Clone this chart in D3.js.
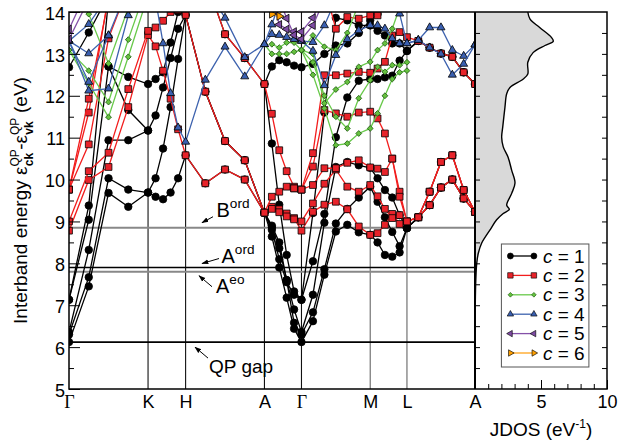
<!DOCTYPE html>
<html>
<head>
<meta charset="utf-8">
<script src="https://cdn.jsdelivr.net/npm/d3@7"></script>
<style>
  body { margin: 0; background: #fff; }
  text { font-family: "Liberation Sans", Arial, Helvetica, sans-serif; }
</style>
</head>
<body>
<div id="chart"></div>
<script>
// k-path: high-symmetry points (fractional path length) and samples per segment
var kLabels = ["Γ", "K", "H", "A", "Γ", "M", "L", "A"];
var kSym = [0, 0.1947, 0.2872, 0.4814, 0.5726, 0.7419, 0.8324, 1.0];
var kSteps = [4, 5, 4, 5, 6, 5, 6];

// reference energies (eV)
var qpGap = 6.12, aEo = 7.80, aOrd = 7.90, bOrd = 8.85;

// interband energies (eV), 36 k-points each, null = outside window
var c1 = [
  [6.12, 7.45, 9.68, 9.35, 9.69, 9.59, 9.53, 9.69, 10.03, 10.58, 9.91, 10.24, 10.00, 9.21, 8.64, 7.90, 7.18, 6.44, 6.12, 6.62, 7.73, 8.76, 8.92, 8.74, 8.68, 8.50, 8.20, 8.16, 8.26, 8.84, 9.10, 9.39, 9.81, 10.00, 9.55, 9.23],
  [6.30, 7.67, 10.03, 9.76, 9.69, 10.03, 10.74, 11.73, 12.88, 13.93, 12.10, 10.92, 10.46, 9.21, 8.86, 8.36, 7.60, 6.58, 6.30, 6.83, 7.86, 8.95, 9.30, 9.57, 9.83, 9.47, 9.10, 8.75, 8.41, 8.84, 9.10, 9.71, 10.42, 10.58, 9.75, 9.23],
  [6.36, 8.32, 10.94, 10.94, 11.17, 11.53, 12.20, 12.90, 13.60, 13.93, 12.10, 10.92, 10.46, 9.21, 8.90, 8.50, 7.60, 6.90, 6.36, 7.25, 8.97, 10.30, 10.42, 10.34, 10.28, 10.03, 9.75, 9.57, 9.15, 8.84, 9.10, 9.39, 9.81, 10.00, 9.55, 9.23],
  [7.13, 9.04, 12.70, 12.45, 12.28, 12.40, 12.56, 13.27, 14.00, 14.60, 14.80, 13.47, 12.90, 12.28, 10.86, 9.40, 8.20, 7.33, 7.13, 8.05, 9.18, 11.01, 11.96, 12.36, 12.40, 12.40, 12.44, 12.48, 12.84, 13.07, 13.31, 13.15, 13.01, 12.93, 12.56, 12.28],
  [7.13, 9.38, 14.30, null, null, null, null, null, null, null, null, null, null, 9.21, 8.80, 8.10, 7.55, 7.25, 7.13, 9.20, 11.60, 13.86, 13.80, 13.68, 13.68, 13.55, 13.44, 13.25, 13.25, 13.07, 13.31, 13.15, 13.01, 12.93, 12.56, 12.28],
  [12.68, 13.51, 14.40, null, null, null, null, null, null, null, null, null, null, 12.28, 12.70, 12.85, 12.80, 12.72, 12.68, 12.76, 13.00, 13.20, 13.25, 13.50, 13.80, 13.95, 14.30, null, null, null, null, null, null, null, null, null],
  [null, null, 12.70, 11.66, 11.17, null, null, null, null, null, null, null, null, null, null, null, null, null, null, null, null, null, null, null, null, null, null, null, null, null, null, null, null, null, null, null]
];
var c2 = [
  [8.78, 9.99, 10.30, 11.73, 13.45, 13.18, 12.60, 11.93, 11.20, 10.58, 9.91, 10.24, 10.00, 9.21, 9.35, 9.29, 9.19, 9.08, 8.78, 9.23, 9.40, 9.47, 9.29, 8.88, 8.68, 8.72, 8.92, 9.18, 8.94, 9.00, 9.10, 9.39, 9.81, 10.00, 9.55, 9.23],
  [9.00, 10.20, 10.64, 12.16, 13.55, 13.63, 13.79, 14.00, 14.05, 13.93, 12.10, 10.92, 10.46, 9.21, 9.30, 9.22, 9.12, 9.05, 9.00, 9.43, 9.90, 10.24, 9.83, 9.71, 9.87, 9.60, 9.30, 9.08, 9.15, 9.00, 9.10, 9.71, 10.42, 10.58, 9.75, 9.23],
  [9.76, 10.84, 13.37, 14.60, null, null, null, null, null, null, 14.80, 13.47, 12.90, 12.28, 11.57, 10.70, 10.20, 9.83, 9.76, 9.87, 10.27, 10.27, 10.40, 10.46, 10.29, 10.26, 10.18, 10.50, 9.71, 9.00, 9.10, 9.39, 9.81, 10.00, 9.55, 9.23],
  [9.76, 11.60, 14.40, null, null, null, null, null, null, null, null, null, null, 9.21, 9.59, 9.71, 9.83, 9.79, 9.76, 10.31, 11.66, 11.58, 11.50, 11.60, 11.62, 11.46, 11.10, 10.50, 9.59, 9.00, 9.10, 9.71, 10.42, 10.58, 9.75, 9.23],
  [9.76, 11.93, 14.30, null, null, null, null, null, null, null, null, null, null, null, null, null, null, 9.79, 9.76, 10.63, 12.49, 12.49, 12.53, 12.57, 12.55, 12.65, 12.81, 13.44, 13.52, 13.40, 13.31, 13.15, 13.01, 12.93, 12.56, 12.28],
  [null, null, null, null, null, null, null, null, null, null, null, null, null, null, null, null, null, null, null, null, 14.60, 13.60, 13.88, 13.84, 13.92, 13.92, 14.10, null, null, null, null, null, null, null, null, null]
];
var c3 = [
  [13.09, 12.30, 11.49, 12.93, 14.40, null, null, null, null, null, null, null, null, 13.23, 13.00, 13.00, 13.00, 13.05, 13.09, 12.50, 11.70, 10.82, 10.86, 11.10, 11.22, 11.58, 12.00, 12.40, 12.56, 12.60, null, null, null, null, null, null],
  [13.09, 12.60, 11.85, 13.34, 14.70, null, null, null, null, null, null, null, null, null, 13.23, 13.15, 13.27, 13.27, 13.09, 13.00, 11.82, 12.15, 12.33, 12.69, 12.81, 13.09, 13.25, 13.60, 14.10, null, null, null, null, null, null, null],
  [14.60, 13.95, 12.77, 14.10, null, null, null, null, null, null, null, null, null, null, null, null, null, null, 13.09, 12.80, 12.00, 11.50, 11.22, 11.94, 12.37, 12.69, 12.57, 12.73, 12.73, 12.80, null, null, null, null, null, null],
  [null, null, null, null, null, null, null, null, null, null, null, null, null, null, null, null, null, null, 13.09, 13.44, 13.17, 13.09, 13.50, 14.20, null, null, null, null, null, null, null, null, null, null, null, null]
];
var c4 = [
  [13.31, 12.12, 12.17, 13.92, 14.80, 14.30, 13.25, 12.06, 11.24, 10.90, 12.38, 13.17, 12.46, 13.23, 13.47, 13.45, 13.40, 13.35, 13.31, 13.07, 12.25, 12.97, 13.35, 13.56, 13.68, 13.68, 13.60, 13.37, 13.25, 13.25, 13.33, 13.63, 13.63, 13.09, 12.95, 13.22],
  [13.31, 13.71, 14.40, null, null, null, null, null, null, null, 14.60, 13.86, 12.92, 13.23, 13.70, 14.20, null, null, 13.31, 13.28, 13.68, 14.30, null, null, null, null, null, 14.40, 13.96, 13.25, 13.33, 13.15, 13.00, 12.50, 12.76, 13.22],
  [13.31, 12.33, 13.44, 14.60, null, null, null, null, null, null, null, null, null, null, null, null, null, null, null, null, null, null, null, null, null, null, null, null, null, null, null, null, null, null, null, null],
  [13.31, 13.01, 13.44, null, null, null, null, null, null, null, null, null, null, null, null, null, null, null, null, null, null, null, null, null, null, null, null, null, null, null, null, null, null, null, null, null]
];
var c5 = [
  [13.59, 14.60, null, null, null, null, null, null, null, null, null, null, null, null, 14.40, 13.70, 13.59, 13.53, 13.53, 13.86, 14.50, null, null, null, null, null, null, null, null, null, null, null, null, null, null, null],
  [13.35, 14.30, null, null, null, null, null, null, null, null, null, null, null, null, null, 14.30, 13.85, 13.45, 13.35, 13.68, 14.30, null, null, null, null, null, null, null, null, null, null, null, null, null, null, null]
];
var c6 = [
  [null, null, null, null, null, null, null, null, null, null, null, null, null, 14.30, 13.95, 13.90, 14.30, null, null, null, null, null, null, null, null, null, null, null, null, null, null, null, null, null, null, null]
];

// joint density of states (eV^-1) against energy (eV)
var jdosE = [6.10, 7.00, 7.60, 8.00, 8.24, 8.48, 8.80, 9.04, 9.19, 9.29, 9.39, 9.67, 9.92, 10.22, 10.54, 10.78, 11.01, 11.25, 11.73, 12.05, 12.20, 12.40, 12.52, 12.80, 13.03, 13.20, 13.30, 13.39, 13.63, 13.83, 14.00];
var jdosV = [0.00, 0.02, 0.06, 0.13, 0.25, 0.50, 1.14, 1.64, 2.14, 2.60, 2.40, 2.78, 3.03, 2.78, 2.50, 2.14, 2.02, 2.10, 2.27, 2.40, 2.65, 3.66, 4.00, 4.00, 4.40, 5.30, 5.93, 5.80, 4.90, 4.17, 4.00];

var legendLabels = ["1", "2", "3", "4", "5", "6"];

// k-grid from the path
var kx = [];
kSteps.forEach(function(n, s) {
  for (var i = 0; i < n; i++) kx.push(kSym[s] + (kSym[s + 1] - kSym[s]) * i / n);
});
kx.push(kSym[kSym.length - 1]);

var margin = {top: 12, right: 12, bottom: 55, left: 69},
    width = 619 - margin.left - margin.right,
    height = 444 - margin.top - margin.bottom,
    bandW = 406;

var svg = d3.select("#chart").append("svg")
    .attr("width", 619).attr("height", 444)
  .append("g")
    .attr("transform", "translate(" + margin.left + "," + margin.top + ")");

var x = d3.scaleLinear().domain([0, 1]).range([0, bandW]);
var xj = d3.scaleLinear().domain([0, 10]).range([bandW, width]);
var y = d3.scaleLinear().domain([5, 14]).range([height, 0]);

svg.append("defs").append("clipPath").attr("id", "clipBand")
  .append("rect").attr("width", bandW).attr("height", height);
svg.select("defs").append("marker")
    .attr("id", "arr").attr("viewBox", "0 0 10 10").attr("refX", 9).attr("refY", 5)
    .attr("markerWidth", 7).attr("markerHeight", 7).attr("orient", "auto")
  .append("path").attr("d", "M0,1.5 L10,5 L0,8.5 z").attr("fill", "#000");

// high-symmetry verticals
kSym.slice(1, -1).forEach(function(k, i) {
  var lab = kLabels[i + 1];
  svg.append("line")
    .attr("x1", x(k)).attr("x2", x(k)).attr("y1", 0).attr("y2", height)
    .attr("stroke", (lab == "M" || lab == "L") ? "#666" : "#111")
    .attr("stroke-width", 1.1);
});

// reference levels
[[qpGap, "#000", 1.6], [aEo, "#888", 2], [aOrd, "#000", 1.4], [bOrd, "#888", 2]].forEach(function(r) {
  svg.append("line").attr("x1", 0).attr("x2", bandW).attr("y1", y(r[0])).attr("y2", y(r[0]))
    .attr("stroke", r[1]).attr("stroke-width", r[2]);
});

// bands
var sym = {
  circle: d3.symbol().type(d3.symbolCircle).size(44),
  square: d3.symbol().type(d3.symbolSquare).size(46),
  diamond: d3.symbol().type(d3.symbolSquare).size(17),
  tri: d3.symbol().type(d3.symbolTriangle).size(28)
};
var series = [
  {bands: c1, line: "#000", fill: "#000", stroke: "#000", shape: "circle", rot: 0},
  {bands: c2, line: "#f21d1d", fill: "#e8232a", stroke: "#000", shape: "square", rot: 0},
  {bands: c3, line: "#68c94a", fill: "#66c23f", stroke: "#1f5a12", shape: "diamond", rot: 45},
  {bands: c4, line: "#3d62ae", fill: "#3a5fb0", stroke: "#000", shape: "tri", rot: 0},
  {bands: c5, line: "#8450a8", fill: "#7e4ba3", stroke: "#000", shape: "tri", rot: -90},
  {bands: c6, line: "#ffa31a", fill: "#ffa000", stroke: "#000", shape: "tri", rot: 90}
];

var line = d3.line()
  .defined(function(d) { return d[1] != null; })
  .x(function(d) { return x(d[0]); })
  .y(function(d) { return y(d[1]); });

var plot = svg.append("g").attr("clip-path", "url(#clipBand)");
series.forEach(function(s) {
  s.bands.forEach(function(b) {
    var pts = b.map(function(v, i) { return [kx[i], v]; });
    plot.append("path").datum(pts).attr("d", line)
      .attr("fill", "none").attr("stroke", s.line).attr("stroke-width", 1.3);
    plot.selectAll(null).data(pts.filter(function(d) { return d[1] != null; }))
      .enter().append("path")
        .attr("d", sym[s.shape])
        .attr("transform", function(d) { return "translate(" + x(d[0]) + "," + y(d[1]) + ") rotate(" + s.rot + ")"; })
        .attr("fill", s.fill).attr("stroke", s.stroke).attr("stroke-width", 0.8);
  });
});

// JDOS panel
var jd = jdosV.map(function(v, i) { return [v, jdosE[i]]; });
svg.append("path").datum(jd)
  .attr("d", d3.area().curve(d3.curveCatmullRom)
    .x0(xj(0)).x1(function(d) { return xj(d[0]); }).y(function(d) { return y(d[1]); }))
  .attr("fill", "#d9d9d9");
svg.append("path").datum(jd)
  .attr("d", d3.line().curve(d3.curveCatmullRom)
    .x(function(d) { return xj(d[0]); }).y(function(d) { return y(d[1]); }))
  .attr("fill", "none").attr("stroke", "#000").attr("stroke-width", 1.4);

// axes
var halves = d3.range(5.5, 14, 1);
var yTicks = d3.range(5, 15);
svg.append("g").call(d3.axisLeft(y).tickValues(yTicks).tickSize(-11).tickPadding(4).tickFormat(d3.format("d")))
  .call(function(g) { g.select(".domain").remove(); g.selectAll("text").style("font-size", "18px").attr("dy", "0.4em"); });
svg.append("g").call(d3.axisLeft(y).tickValues(halves).tickSize(-5).tickFormat(""))
  .call(function(g) { g.select(".domain").remove(); });
svg.append("g").attr("transform", "translate(" + bandW + ",0)")
  .call(d3.axisLeft(y).tickValues(d3.range(5.5, 14, 0.5)).tickSize(-5).tickFormat(""))
  .call(function(g) { g.select(".domain").remove(); });
svg.append("g").attr("transform", "translate(" + width + ",0)")
  .call(d3.axisRight(y).tickValues(d3.range(5.5, 14, 0.5)).tickSize(-5).tickFormat(""))
  .call(function(g) { g.select(".domain").remove(); });
svg.append("g").attr("transform", "translate(0," + height + ")")
  .call(d3.axisBottom(xj).tickValues(d3.range(1, 10)).tickSize(-5).tickFormat(""))
  .call(function(g) { g.select(".domain").remove(); });
svg.append("g").attr("transform", "translate(0," + height + ")")
  .call(d3.axisBottom(xj).tickValues([5, 10]).tickSize(-9).tickPadding(6).tickFormat(d3.format("d")))
  .call(function(g) { g.select(".domain").remove(); g.selectAll("text").style("font-size", "18px"); });
svg.append("g").attr("transform", "translate(0," + height + ")")
  .call(d3.axisBottom(x).tickValues(kSym).tickSize(0).tickPadding(6).tickFormat(function(d, i) { return kLabels[i]; }))
  .call(function(g) {
    g.select(".domain").remove();
    g.selectAll("text").style("font-size", "18px")
      .style("font-family", function(d, i) { return kLabels[i] == "Γ" ? "'Liberation Serif', serif" : null; });
  });

// frame
svg.append("rect").attr("width", width).attr("height", height)
  .attr("fill", "none").attr("stroke", "#000").attr("stroke-width", 1.5);
svg.append("line").attr("x1", bandW).attr("x2", bandW).attr("y1", 0).attr("y2", height)
  .attr("stroke", "#000").attr("stroke-width", 2);

// annotations
function note(tx, ty, main, sup, fs, ax1, ay1, ax2, ay2) {
  var t = svg.append("text").attr("x", tx).attr("y", ty).style("font-size", fs + "px");
  t.append("tspan").text(main);
  if (sup) t.append("tspan").attr("dy", -fs * 0.45).style("font-size", (fs * 0.68) + "px").text(sup);
  svg.append("line").attr("x1", ax1).attr("y1", ay1).attr("x2", ax2).attr("y2", ay2)
    .attr("stroke", "#000").attr("stroke-width", 1).attr("marker-end", "url(#arr)");
}
note(147.5, y(bOrd) - 11, "B", "ord", 20, 144, y(bOrd) - 11, 133, y(bOrd) - 5);
note(152.5, y(aOrd) - 5, "A", "ord", 20, 150, y(aOrd) - 9, 133, y(aOrd) - 4);
note(147, y(aEo) + 21, "A", "eo", 20, 143, y(aEo) + 15, 130, y(aEo) + 4);
note(140, y(qpGap) + 31, "QP gap", null, 19, 139, y(qpGap) + 16, 126, y(qpGap) + 5);

// y title
var yt = svg.append("text")
  .attr("transform", "translate(-42," + (height / 2) + ") rotate(-90)")
  .attr("text-anchor", "middle").style("font-size", "19px");
yt.append("tspan").text("Interband energy ε");
yt.append("tspan").attr("dy", -8).style("font-size", "12px").text("QP");
yt.append("tspan").attr("dx", -17).attr("dy", 14).style("font-size", "12px").style("font-weight", "bold").text("ck");
yt.append("tspan").attr("dx", 3).attr("dy", -6).text("-ε");
yt.append("tspan").attr("dy", -8).style("font-size", "12px").text("QP");
yt.append("tspan").attr("dx", -17).attr("dy", 14).style("font-size", "12px").style("font-weight", "bold").text("vk");
yt.append("tspan").attr("dx", 3).attr("dy", -6).text(" (eV)");

// x title for JDOS
var xt = svg.append("text").attr("x", xj(5)).attr("y", height + 47)
  .attr("text-anchor", "middle").style("font-size", "19px");
xt.append("tspan").text("JDOS (eV");
xt.append("tspan").attr("dy", -8).style("font-size", "12px").text("-1");
xt.append("tspan").attr("dy", 8).text(")");

// legend
var lg = svg.append("g").attr("transform", "translate(" + (xj(2)) + ",232)");
lg.append("rect").attr("width", 87.5).attr("height", 123)
  .attr("fill", "#fff").attr("stroke", "#555").attr("stroke-width", 1);
series.forEach(function(s, i) {
  var ly = 12 + i * 19.4;
  lg.append("line").attr("x1", 9).attr("x2", 32.5).attr("y1", ly).attr("y2", ly)
    .attr("stroke", s.line).attr("stroke-width", 1.3);
  [9, 32.5].forEach(function(px) {
    lg.append("path").attr("d", sym[s.shape])
      .attr("transform", "translate(" + px + "," + ly + ") rotate(" + s.rot + ") scale(0.8)")
      .attr("fill", s.fill).attr("stroke", s.stroke).attr("stroke-width", 0.8);
  });
  var t = lg.append("text").attr("x", 41.5).attr("y", ly + 6.5).style("font-size", "19px");
  t.append("tspan").style("font-style", "italic").text("c");
  t.append("tspan").text(" = " + legendLabels[i]);
});
</script>
</body>
</html>
